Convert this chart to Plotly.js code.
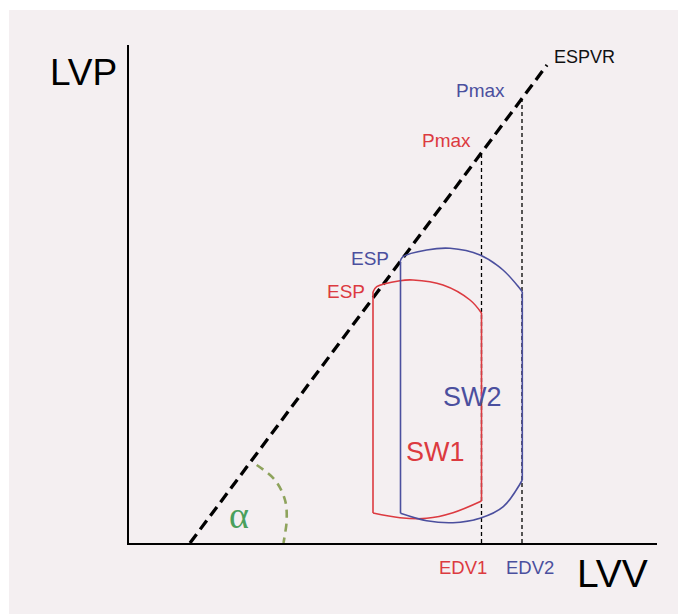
<!DOCTYPE html>
<html style="background:#f4eff1;">
<head>
<meta charset="utf-8">
<script src="https://cdn.plot.ly/plotly-3.0.1.min.js"></script>
<style>
html,body{margin:0;padding:0;background:#f4eff1;overflow:hidden;width:100%;height:100%;}
#bg{position:fixed;left:0;top:0;right:0;bottom:0;background:#f4eff1;}
#chart{position:absolute;left:9px;top:10px;width:669px;height:604px;}
#wl{position:fixed;left:0;top:0;width:9px;height:100%;background:#ffffff;}
#wt{position:fixed;left:0;top:0;width:100%;height:10px;background:#ffffff;}
</style>
</head>
<body>
<div id="bg"></div>
<div id="wl"></div>
<div id="wt"></div>
<div id="chart"></div>
<script>
// Schematic units (LVV on x, LVP on y)
const espvrX = [61, 418];
const espvrY = [0, 478];

// SW1 loop (red): top arc, null, right edge, null, bottom arc, null, left edge
const sw1X = [244, 247.7, 271, 284, 314, 341, 352.5, null, 352.5, 352.5, null, 352.5, 324, 297.7, 271, 244, null, 244, 244];
const sw1Y = [251, 256.3, 262.3, 263, 258, 243, 230, null, 230, 42, null, 42, 30.3, 24.7, 25.3, 30, null, 30, 251];

// SW2 loop (blue)
const sw2X = [271, 274, 297.7, 321, 351, 374, 393.3, null, 393.3, 393.3, null, 393.3, 374.3, 351, 324, 297.7, 271.5, null, 271.5, 271.5];
const sw2Y = [281.3, 286.3, 293, 294.7, 288, 273, 251.3, null, 251.3, 63, null, 63, 36.3, 24.7, 20.3, 22.3, 29.7, null, 29.7, 281.3];

// End-diastolic volumes and corresponding Pmax on ESPVR
const edvX = [352.5, 393];
const pmaxY = [390, 444];

// alpha angle arc
const alphaX = [127.7, 146, 156, 157.7, 155.5, 154.5];
const alphaY = [78, 63, 43, 23, 6, 0];

const red = '#dc3a40';
const blue = '#4b4f9e';

const traces = [
  {x: espvrX, y: espvrY, mode: 'lines', line: {color: '#000000', width: 3.3, dash: '11px,6px'}, hoverinfo: 'skip'},
  {x: [edvX[0], edvX[0]], y: [0, pmaxY[0]], mode: 'lines', line: {color: '#000000', width: 1.3, dash: '4px,3px'}, hoverinfo: 'skip'},
  {x: [edvX[1], edvX[1]], y: [0, pmaxY[1]], mode: 'lines', line: {color: '#000000', width: 1.3, dash: '4px,3px'}, hoverinfo: 'skip'},
  {x: sw1X, y: sw1Y, mode: 'lines', connectgaps: false, line: {color: red, width: 1.6, shape: 'spline', smoothing: 1}, hoverinfo: 'skip'},
  {x: sw2X, y: sw2Y, mode: 'lines', connectgaps: false, line: {color: blue, width: 1.6, shape: 'spline', smoothing: 1}, hoverinfo: 'skip'},
  {x: alphaX, y: alphaY, mode: 'lines', line: {color: '#8ea35c', width: 2.6, dash: '8px,6px', shape: 'spline'}, hoverinfo: 'skip'}
];

const F = 'Liberation Sans, Arial, sans-serif';
function ann(text, x, y, size, color, family) {
  return {text: text, x: x, y: y, xref: 'x', yref: 'y', showarrow: false,
          xanchor: 'center', yanchor: 'middle',
          font: {family: family || F, size: size, color: color}};
}
function pann(text, x, y, size, color) {
  return {text: text, x: x, y: y, xref: 'paper', yref: 'paper', showarrow: false,
          xanchor: 'center', yanchor: 'middle',
          font: {family: F, size: size, color: color}};
}

const annotations = [
  pann('LVP', -46 / 528, 471 / 498, 37, '#000000'),
  pann('LVV', 483 / 528, -30 / 498, 39, '#000000'),
  pann('EDV1', 333.5 / 528, -24 / 498, 18.5, red),
  pann('EDV2', 401 / 528, -24 / 498, 18.5, blue),
  ann('ESPVR', 455, 486, 18, '#111111'),
  ann('Pmax', 351, 453, 19, blue),
  ann('Pmax', 317.3, 403, 19, red),
  ann('ESP', 240.7, 285, 19, blue),
  ann('ESP', 217, 251.5, 19, red),
  ann('SW2', 343.5, 146.5, 27, blue),
  ann('SW1', 306, 91.5, 27, red),
  ann('\u03b1', 109.7, 28, 38, '#4aa05c', 'Liberation Serif, Times New Roman, serif')
];

const layout = {
  width: 669, height: 604,
  margin: {l: 120, r: 21, t: 35, b: 71, pad: 0},
  paper_bgcolor: '#f4eff1',
  plot_bgcolor: '#f4eff1',
  showlegend: false,
  xaxis: {range: [0, 528], showgrid: false, zeroline: false, showticklabels: false, ticks: '',
          showline: true, linecolor: '#000000', linewidth: 1.6, fixedrange: true},
  yaxis: {range: [0, 498], showgrid: false, zeroline: false, showticklabels: false, ticks: '',
          showline: true, linecolor: '#000000', linewidth: 1.6, fixedrange: true},
  annotations: annotations
};

Plotly.newPlot('chart', traces, layout, {displayModeBar: false, staticPlot: true});
</script>
</body>
</html>
